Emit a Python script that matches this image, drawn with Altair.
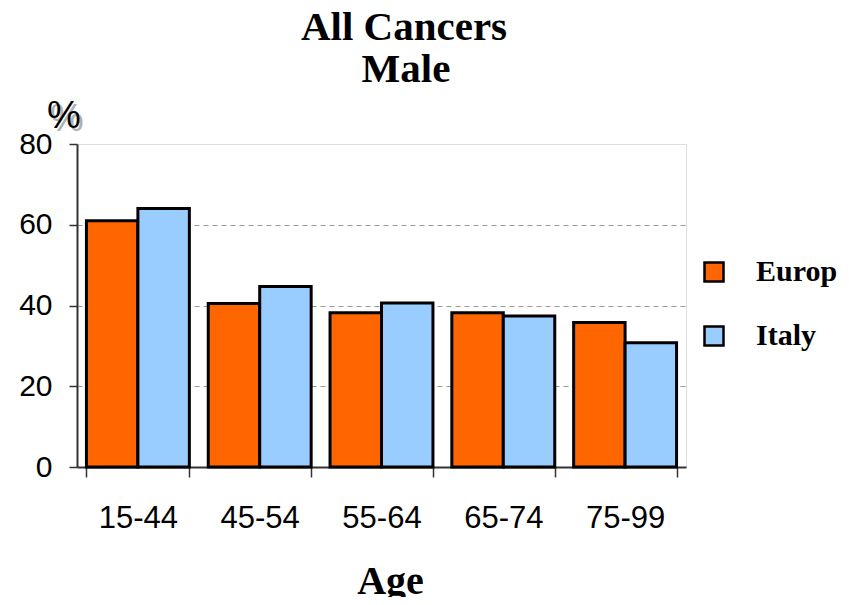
import altair as alt
import pandas as pd

ages = ["15-44", "45-54", "55-64", "65-74", "75-99"]
europ = [61, 40.5, 38.2, 38.2, 35.8]
italy = [64, 44.7, 40.6, 37.4, 30.8]
series = ["Europ", "Italy"]
colors = ["#FF6600", "#99CCFF"]
y_ticks = [0, 20, 40, 60, 80]
title_lines = ["All Cancers", "Male"]

rows = []
for a, e, i in zip(ages, europ, italy):
    rows.append({"Age": a, "Series": "Europ", "Value": e})
    rows.append({"Age": a, "Series": "Italy", "Value": i})
df = pd.DataFrame(rows)

bars = alt.Chart(df).mark_bar(stroke="black", strokeWidth=3).encode(
    x=alt.X("Age:N", sort=ages,
            scale=alt.Scale(paddingInner=0.155, paddingOuter=0.0775),
            axis=alt.Axis(title="Age", labelAngle=0, labelFont="Liberation Sans",
                          labelFontSize=31, labelColor="black", labelPadding=26,
                          tickBand="extent", tickSize=10, tickColor="#333", tickWidth=1.5,
                          domainColor="#333", domainWidth=2,
                          titleFont="Liberation Serif", titleFontSize=40,
                          titleFontWeight="bold", titleColor="black",
                          titleX=313, titleY=126, titleBaseline="alphabetic")),
    xOffset=alt.XOffset("Series:N", sort=series,
                        scale=alt.Scale(paddingInner=0, paddingOuter=0)),
    y=alt.Y("Value:Q", scale=alt.Scale(domain=[0, 80], nice=False),
            axis=alt.Axis(title=None, values=y_ticks, labelFont="Liberation Sans",
                          labelFontSize=30, labelColor="black", labelPadding=17,
                          tickSize=8, tickColor="#333", tickWidth=1.5,
                          domainColor="#333", domainWidth=2,
                          grid=True, gridDash=[5, 4], gridColor="#999", gridWidth=1,
                          gridOpacity=alt.condition("datum.value == 80 || datum.value == 0",
                                                    alt.value(0), alt.value(1)))),
    color=alt.Color("Series:N", sort=series,
                    scale=alt.Scale(domain=series, range=colors),
                    legend=alt.Legend(title=None, orient="none", legendX=622, legendY=113,
                                      symbolType="square", symbolSize=361,
                                      symbolStrokeColor="black", symbolStrokeWidth=2.5,
                                      symbolOpacity=1,
                                      labelFont="Liberation Serif", labelFontSize=30,
                                      labelFontWeight="bold", labelColor="black",
                                      labelOffset=27, rowPadding=34)),
)

pct = pd.DataFrame({"t": ["%"]})
shadow = alt.Chart(pct).mark_text(font="Liberation Sans", fontSize=38, color="#b0b0b0",
                                  align="center", baseline="middle").encode(
    text="t:N", x=alt.value(-10), y=alt.value(-24))
pct_text = alt.Chart(pct).mark_text(font="Liberation Sans", fontSize=38, color="black",
                                    align="center", baseline="middle").encode(
    text="t:N", x=alt.value(-13), y=alt.value(-27))

t1 = alt.Chart(pd.DataFrame({"t": [title_lines[0]]})).mark_text(
    font="Liberation Serif", fontSize=41, fontWeight="bold", color="black",
    align="center", baseline="alphabetic").encode(
    text="t:N", x=alt.value(327), y=alt.value(-104))
t2 = alt.Chart(pd.DataFrame({"t": [title_lines[1]]})).mark_text(
    font="Liberation Serif", fontSize=41, fontWeight="bold", color="black",
    align="center", baseline="alphabetic").encode(
    text="t:N", x=alt.value(329), y=alt.value(-62))

chart = alt.layer(bars, shadow, pct_text, t1, t2).properties(
    width=609, height=323,
    autosize=alt.AutoSizeParams(type="none"),
    padding={"left": 69, "top": 136, "right": 155, "bottom": 130},
).configure_view(stroke="#666666", strokeWidth=2.5).configure(background="white")

chart.save("out.html", embed_options={"renderer": "svg", "actions": False})
